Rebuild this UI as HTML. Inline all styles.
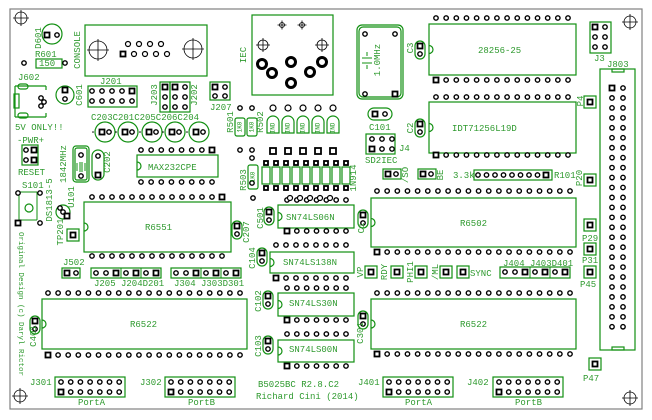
<!DOCTYPE html>
<html><head><meta charset="utf-8">
<style>
html,body{margin:0;padding:0;background:#fff;}
svg{display:block;}
text{font-family:"Liberation Mono","DejaVu Sans Mono",monospace;font-size:9px;fill:#2f9a2f;}
text.r{text-anchor:middle;dominant-baseline:central;}
text.s{font-size:6px;fill:#129012;}
</style></head>
<body>
<svg id="s" width="652" height="420" viewBox="0 0 652 420" xmlns="http://www.w3.org/2000/svg">
<rect x="10" y="9" width="632" height="400" fill="none" stroke="#808080" stroke-width="1.2"/>
<g id="shapes"></g>
<text class="r" x="39" y="38" transform="rotate(-90 39 38)">D601</text>
<text x="35" y="57">R601</text>
<text x="39" y="66">150</text>
<text class="r" x="78" y="50" transform="rotate(-90 78 50)">CONSOLE</text>
<text class="r" x="244" y="55" transform="rotate(-90 244 55)">IEC</text>
<text class="r" x="378" y="60" transform="rotate(-90 378 60)">1.0MHz</text>
<text class="r" x="411" y="48" transform="rotate(-90 411 48)">C3</text>
<text x="478" y="53">28256-25</text>
<text x="594" y="61">J3</text>
<text x="607" y="67">J803</text>
<text class="r" x="581" y="101" transform="rotate(-90 581 101)">P4</text>
<text x="452" y="131">IDT71256L19D</text>
<text class="r" x="411" y="128" transform="rotate(-90 411 128)">C2</text>
<text x="369" y="130">C101</text>
<text x="399" y="151">J4</text>
<text x="365" y="163">SD2IEC</text>
<text class="r" x="406" y="175" transform="rotate(-90 406 175)">/SO</text>
<text class="r" x="441" y="175" transform="rotate(-90 441 175)">BE</text>
<text x="453" y="178">3.3k</text>
<text x="554" y="178">R101</text>
<text class="r" x="580" y="178" transform="rotate(-90 580 178)">P20</text>
<text x="460" y="226">R6502</text>
<text class="r" x="362" y="228" transform="rotate(-90 362 228)">C1</text>
<text x="582" y="241">P29</text>
<text x="582" y="263">P31</text>
<text x="580" y="287">P45</text>
<text class="r" x="361" y="272" transform="rotate(-90 361 272)">VP</text>
<text class="r" x="385" y="272" transform="rotate(-90 385 272)">RDY</text>
<text class="r" x="411" y="272" transform="rotate(-90 411 272)">PHI1</text>
<text class="r" x="436" y="272" transform="rotate(-90 436 272)">/ML</text>
<text x="470" y="276">SYNC</text>
<text x="503" y="266">J404 J403D401</text>
<text x="460" y="327">R6522</text>
<text class="r" x="361" y="333" transform="rotate(-90 361 333)">C301</text>
<text x="583" y="381">P47</text>
<text x="358" y="385">J401</text>
<text x="405" y="405">PortA</text>
<text x="467" y="385">J402</text>
<text x="515" y="405">PortB</text>
<text x="258" y="387">B5025BC R2.8.C2</text>
<text x="256" y="399">Richard Cini (2014)</text>
<text x="30" y="385">J301</text>
<text x="78" y="405">PortA</text>
<text x="140" y="385">J302</text>
<text x="188" y="405">PortB</text>
<text x="130" y="327">R6522</text>
<text class="r" x="34" y="336" transform="rotate(-90 34 336)">C401</text>
<text class="r" x="20" y="304" transform="rotate(90 20 304)" style="font-size:7.5px">Original Design (c) Daryl Rictor</text>
<text x="145" y="230">R6551</text>
<text class="r" x="247" y="232" transform="rotate(-90 247 232)">C207</text>
<text class="r" x="61" y="232" transform="rotate(-90 61 232)">TP201</text>
<text x="63" y="265">J502</text>
<text x="94" y="286">J205 J204D201</text>
<text x="174" y="286">J304 J303D301</text>
<text x="286" y="220">SN74LS06N</text>
<text class="r" x="261" y="218" transform="rotate(-90 261 218)">C501</text>
<text x="283" y="265">SN74LS138N</text>
<text class="r" x="253" y="258" transform="rotate(-90 253 258)">C104</text>
<text x="289" y="306">SN74LS30N</text>
<text class="r" x="259" y="301" transform="rotate(-90 259 301)">C102</text>
<text x="289" y="352">SN74LS00N</text>
<text class="r" x="259" y="346" transform="rotate(-90 259 346)">C103</text>
<text x="148" y="170">MAX232CPE</text>
<text class="r" x="64" y="164" transform="rotate(-90 64 164)">1842MHz</text>
<text class="r" x="108" y="162" transform="rotate(-90 108 162)">C202</text>
<text x="91" y="120">C203C201C205C206C204</text>
<text x="100" y="84">J201</text>
<text class="r" x="155" y="95" transform="rotate(-90 155 95)">J203</text>
<text class="r" x="195" y="95" transform="rotate(-90 195 95)">J202</text>
<text x="210" y="110">J207</text>
<text class="r" x="80" y="95" transform="rotate(-90 80 95)">C601</text>
<text x="18" y="80">J602</text>
<text x="15" y="130">5V ONLY!!</text>
<text x="17" y="143">-PWR+</text>
<text x="18" y="175">RESET</text>
<text x="22" y="188">S101</text>
<text class="r" x="50" y="200" transform="rotate(-90 50 200)">DS1813-5</text>
<text class="r" x="72" y="197" transform="rotate(-90 72 197)">U101</text>
<text class="r" x="231" y="122" transform="rotate(-90 231 122)">R501</text>
<text class="r" x="261" y="122" transform="rotate(-90 261 122)">R502</text>
<text class="r" x="244" y="180" transform="rotate(-90 244 180)">R503</text>
<text class="r" x="354" y="178" transform="rotate(-90 354 178)">1N914</text>
<text class="r s" x="240" y="127" transform="rotate(-90 240 127)">1K0</text>
<text class="r s" x="252" y="127" transform="rotate(-90 252 127)">1K0</text>
<text class="r s" x="253" y="177" transform="rotate(-90 253 177)">1K0</text>
<text class="r s" x="273" y="128" transform="rotate(-90 273 128)">IND</text>
<text class="r s" x="288" y="128" transform="rotate(-90 288 128)">IND</text>
<text class="r s" x="303" y="128" transform="rotate(-90 303 128)">IND</text>
<text class="r s" x="318" y="128" transform="rotate(-90 318 128)">IND</text>
<text class="r s" x="333" y="128" transform="rotate(-90 333 128)">IND</text>
</svg>
<script>
var o='';
var C='#129012';
function ln(){return ' fill="none" stroke="'+C+'" stroke-width="1.2"';}
function rect(x,y,w,h){o+='<rect x="'+x+'" y="'+y+'" width="'+w+'" height="'+h+'"'+ln()+'/>';}
function rrect(x,y,w,h,r){o+='<rect x="'+x+'" y="'+y+'" width="'+w+'" height="'+h+'" rx="'+r+'"'+ln()+'/>';}
function circ(x,y,r,w){o+='<circle cx="'+x+'" cy="'+y+'" r="'+r+'" fill="none" stroke="'+C+'" stroke-width="'+(w||1.2)+'"/>';}
function pin(x,y){o+='<circle cx="'+x+'" cy="'+y+'" r="2.2" fill="#fff" stroke="#000" stroke-width="1.4"/>';}
function ring(x,y,r){o+='<circle cx="'+x+'" cy="'+y+'" r="'+(r||3)+'" fill="#fff" stroke="#000" stroke-width="1.2"/>';}
function sq(x,y,s){s=s||5;o+='<rect x="'+(x-s/2)+'" y="'+(y-s/2)+'" width="'+s+'" height="'+s+'" fill="#fff" stroke="#000" stroke-width="1.8"/>';}
function big(x,y){o+='<circle cx="'+x+'" cy="'+y+'" r="4.5" fill="#fff" stroke="#000" stroke-width="3"/>';}
function cross(x,y,r){o+='<circle cx="'+x+'" cy="'+y+'" r="'+r+'" fill="none" stroke="#000" stroke-width="0.8"/><path d="M'+(x-r-2)+' '+y+'H'+(x+r+2)+'M'+x+' '+(y-r-2)+'V'+(y+r+2)+'" stroke="#000" stroke-width="0.8"/>';}
function row(x0,x1,y,n,firstSq,lastSq){for(var i=0;i<n;i++){var x=x0+(x1-x0)*i/(n-1);if((firstSq&&i==0)||(lastSq&&i==n-1))sq(x,y);else pin(x,y);}}
function chip(x,y,w,h,ytop,ybot,n,px0,px1,sqTopRight){rect(x,y,w,h);
 o+='<path d="M'+x+' '+(y+h/2-4)+'a4 4 0 0 1 0 8"'+ln()+'/>';
 row(px0,px1,ytop,n,false,sqTopRight);row(px0,px1,ybot,n,!sqTopRight,false);}
function cap(x,y){rrect(x-5,y-9,10,18,5);sq(x,y-4);pin(x,y+4);}
function box(x,y){rect(x-6,y-6,12,12);sq(x,y);}
cross(21,18,6);cross(630,22,6);cross(20,396,6);cross(630,398,6);
circ(52,34,10);sq(47,35);pin(57,35);
rect(36,59,26,9);pin(24,63);pin(65,63);
rect(85,25,122,51);cross(98,50,9);cross(193,49,9);
[128,139,150,161].forEach(function(x){ring(x,44,2.5)});sq(123,54);[134,145,156,167].forEach(function(x){ring(x,54,2.5)});
rect(252,15,81,80);cross(282,25,2.5);cross(302,25,2.5);cross(263,45,5);cross(322,45,5);
[[262,64],[272,73],[291,62],[291,83],[310,72],[322,62]].forEach(function(p){big(p[0],p[1])});
rrect(357,25,46,74,5);rrect(359,27,42,70,4);pin(365,34);pin(395,34);pin(365,94);sq(395,94);
o+='<path d="M362 58h10M362 63h10M367 52v4M367 65v4" stroke="'+C+'"/>';
cap(420,50);chip(429,24,147,51,18,80,14,436,568,false);
rect(590,22,21,31);sq(595,27);pin(605,27);pin(595,37);pin(605,37);pin(595,47);pin(605,47);
rect(600,69,35,281);o+='<rect x="612" y="69" width="12" height="3"'+ln()+'/><rect x="612" y="347" width="12" height="3"'+ln()+'/>';
for(var i=0;i<25;i++){var y=88+i*9.95;if(i==0)sq(612,y);else pin(612,y);pin(623,y);}
box(590,102);
cap(420,128);chip(429,102,147,51,97,155,14,436,568,false);
rrect(368,108,24,12,6);sq(375,114);pin(385,114);
rect(366,134,29,20);pin(372,139);pin(382,139);pin(392,139);sq(372,149);pin(382,149);pin(392,149);
rect(383,169,18,10);sq(388,174);pin(396,174);rect(418,169,18,10);sq(423,174);pin(431,174);
rect(474,170,78,10);row(478,546,175,9,false,true);
box(590,180);
cap(363,219);chip(371,198,205,49,191,252,20,377,570,false);
box(590,225);box(590,249);box(590,272);
box(371,272);box(397,272);box(421,272);box(446,272);box(463,272);
rect(500,267,70,11);pin(505,272);pin(515,272);sq(525,272);pin(535,272);sq(545,272);pin(555,272);sq(565,272);
o+='<path d="M530 267v11M550 267v11" stroke="'+C+'"/>';
cap(363,320);chip(371,299,205,50,293,354,20,377,570,false);
box(595,364);
function hdr(x,y){rect(x,y,70,20);for(var i=0;i<7;i++){pin(x+6+i*9.7,y+5);if(i==0)sq(x+6,y+15);else pin(x+6+i*9.7,y+15);}}
hdr(383,377);hdr(493,377);hdr(55,377);hdr(165,377);
cap(35,325);chip(42,299,205,50,293,355,20,48,240,false);
cap(237,230);chip(84,202,147,50,197,256,14,92,222,true);
box(73,235);
rect(62,268,18,10);sq(67,273);pin(76,273);
function sip(x){rect(x,268,70,10);pin(x+5,273);pin(x+15,273);sq(x+25,273);pin(x+35,273);sq(x+45,273);pin(x+55,273);sq(x+65,273);o+='<path d="M'+(x+30)+' 268v10M'+(x+50)+' 268v10" stroke="'+C+'"/>';}
sip(91);sip(171);
cap(269,216);chip(278,205,76,23,200,231,7,287,346,false);
cap(262,257);chip(270,252,84,21,245,278,8,276,346,false);
cap(268,300);chip(278,293,76,23,288,320,7,287,346,false);
cap(268,345);chip(278,340,76,22,334,366,7,287,346,false);
chip(137,155,81,22,150,182,8,141,212,true);
rrect(73,146,16,36,3);rrect(75,148,12,32,2);pin(81,155);pin(81,176);o+='<path d="M77 163v8M85 163v8M80 162v10M82 162v10" stroke="'+C+'"/>';
rrect(92,150,12,30,6);pin(98,156);sq(98,175);
[105,128,152,175,199].forEach(function(x){circ(x,132,10);sq(x-3,132);pin(x+4,132);o+='<circle cx="'+(x-12)+'" cy="132" r="0.8" fill="#000"/>';});
rect(88,86,49,21);for(var i=0;i<5;i++){if(i==4)sq(92+i*10,91);else pin(92+i*10,91);pin(92+i*10,101);}
rect(160,82,10,30);rect(170,82,20,30);sq(165,87);pin(165,97);pin(165,107);sq(175,87);pin(175,97);pin(175,107);pin(185,87);pin(185,97);pin(185,107);
rect(210,82,20,18);sq(215,87);pin(225,87);pin(215,96);pin(225,96);
circ(65,95,9);sq(65,90);pin(65,99);
o+='<path d="M15 86h31M15 117h31M15 86v31M46 86v4M46 113v4" '+ln()+'/>';
rrect(18,84,10,5,2.5);rrect(18,113,10,5,2.5);pin(41,98);pin(44,102);pin(41,106);rect(14,94,5,14);
rect(22,145,16,20);pin(26,150);sq(34,150);pin(26,160);sq(34,160);
o+='<path d="M19 192h18M19 220h18M19 192v28M37 192v28" stroke="'+C+'"/>';pin(18,193);pin(40,193);sq(18,223);pin(40,223);circ(29,208,4);
circ(63,212,7);pin(60,208);pin(63,212);sq(67,216);
function res(x,y,h){rrect(x-5,y,10,h,2);}
pin(240,108);pin(252,108);res(240,118,18);res(252,118,18);pin(240,150);pin(252,150);pin(252,158);
[273,288,303,318,333].forEach(function(x){ring(x,108,3);o+='<path d="M'+(x-6)+' 122a6 6 0 0 1 12 0v11h-12z" '+ln()+'/>';sq(x,151,6);});
pin(252,183);res(253,165,24);pin(253,198);
for(var j=0;j<9;j++){var xx=266+j*10;sq(xx,163,4);sq(xx,188,4);rect(xx-4,167,8,17);}
[290,300,310,320,330].forEach(function(x){ring(x,198,2.5)});
document.getElementById('shapes').innerHTML=o;
</script>
</body></html>
